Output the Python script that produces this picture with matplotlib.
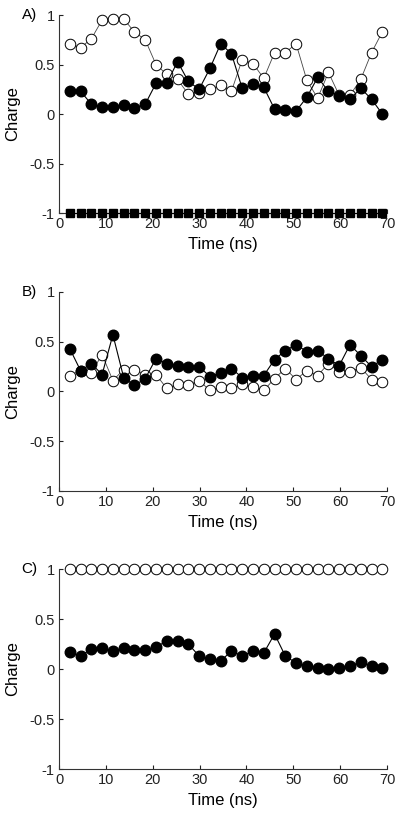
import matplotlib.pyplot as plt

plt.rcParams['font.family'] = ['Liberation Sans', 'DejaVu Sans']

# time points (ns)
time_ns = [2.3, 4.6, 6.9, 9.2, 11.5, 13.8, 16.1, 18.4, 20.7, 23.0,
           25.3, 27.6, 29.9, 32.2, 34.5, 36.8, 39.1, 41.4, 43.7, 46.0,
           48.3, 50.6, 52.9, 55.2, 57.5, 59.8, 62.1, 64.4, 66.7, 69.0]

# panel A
a_filled = [0.23, 0.23, 0.10, 0.07, 0.07, 0.09, 0.06, 0.10, 0.31, 0.31,
            0.53, 0.33, 0.25, 0.46, 0.71, 0.61, 0.26, 0.30, 0.27, 0.05,
            0.04, 0.03, 0.17, 0.37, 0.23, 0.18, 0.15, 0.26, 0.15, 0.00]
a_open = [0.71, 0.67, 0.76, 0.95, 0.96, 0.96, 0.83, 0.75, 0.50, 0.40,
          0.35, 0.20, 0.21, 0.25, 0.29, 0.23, 0.55, 0.51, 0.36, 0.62,
          0.62, 0.71, 0.34, 0.16, 0.42, 0.19, 0.19, 0.35, 0.62, 0.83]
a_square = [-1.0] * 30

# panel B
b_filled = [0.43, 0.21, 0.28, 0.17, 0.57, 0.14, 0.06, 0.13, 0.33, 0.28,
            0.26, 0.25, 0.25, 0.15, 0.19, 0.23, 0.14, 0.16, 0.16, 0.32,
            0.41, 0.47, 0.40, 0.41, 0.33, 0.26, 0.47, 0.36, 0.25, 0.32]
b_open = [0.16, 0.21, 0.19, 0.37, 0.11, 0.22, 0.22, 0.17, 0.17, 0.03,
          0.07, 0.06, 0.11, 0.01, 0.04, 0.03, 0.07, 0.04, 0.01, 0.13,
          0.23, 0.12, 0.21, 0.16, 0.28, 0.20, 0.20, 0.24, 0.12, 0.09]

# panel C
c_filled = [0.17, 0.13, 0.20, 0.21, 0.18, 0.21, 0.19, 0.19, 0.22, 0.28,
            0.28, 0.25, 0.13, 0.10, 0.08, 0.18, 0.13, 0.18, 0.16, 0.35,
            0.13, 0.06, 0.03, 0.01, 0.00, 0.01, 0.03, 0.07, 0.03, 0.01]
c_open = [1.0] * 30

x_ticks = [0, 10, 20, 30, 40, 50, 60, 70]
y_ticks = [-1, -0.5, 0, 0.5, 1]
y_ticklabels = ['-1', '-0.5', '0', '0.5', '1']

fig = plt.figure(figsize=(4, 8.18), dpi=100)
boxes = [[0.1475, 0.7396, 0.82, 0.242],
         [0.1475, 0.3998, 0.82, 0.2433],
         [0.1475, 0.0599, 0.82, 0.2445]]
axs = [fig.add_axes(b) for b in boxes]

ms = 7.6


def style_axis(ax, label):
    ax.set_xlim(0, 70)
    ax.set_ylim(-1, 1)
    ax.set_xticks(x_ticks)
    ax.set_yticks(y_ticks)
    ax.set_yticklabels(y_ticklabels)
    ax.spines['top'].set_visible(False)
    ax.spines['right'].set_visible(False)
    for s in ['left', 'bottom']:
        ax.spines[s].set_linewidth(0.8)
        ax.spines[s].set_color('#333333')
    ax.tick_params(direction='in', length=3, width=0.8, labelsize=10.5,
                   pad=3, colors='#222222')
    ax.set_xlabel('Time (ns)', fontsize=12, labelpad=4)
    ax.set_ylabel('Charge', fontsize=12, labelpad=7)
    ax.text(-0.067, 1.0, label, transform=ax.transAxes, ha='right',
            va='center', fontsize=11)


def draw_open(ax, y):
    ax.plot(time_ns, y, '-o', color='#444444', lw=0.6, ms=ms,
            mfc='white', mec='black', mew=0.7, clip_on=False, zorder=3)


def draw_filled(ax, y, marker='o', size=ms):
    ax.plot(time_ns, y, '-' + marker, color='black', lw=0.8, ms=size,
            mfc='black', mec='black', clip_on=False, zorder=4)


draw_open(axs[0], a_open)
draw_filled(axs[0], a_filled)
draw_filled(axs[0], a_square, marker='s', size=6.0)
style_axis(axs[0], 'A)')

draw_open(axs[1], b_open)
draw_filled(axs[1], b_filled)
style_axis(axs[1], 'B)')

draw_open(axs[2], c_open)
draw_filled(axs[2], c_filled)
style_axis(axs[2], 'C)')

fig.savefig('out.png', dpi=100)
